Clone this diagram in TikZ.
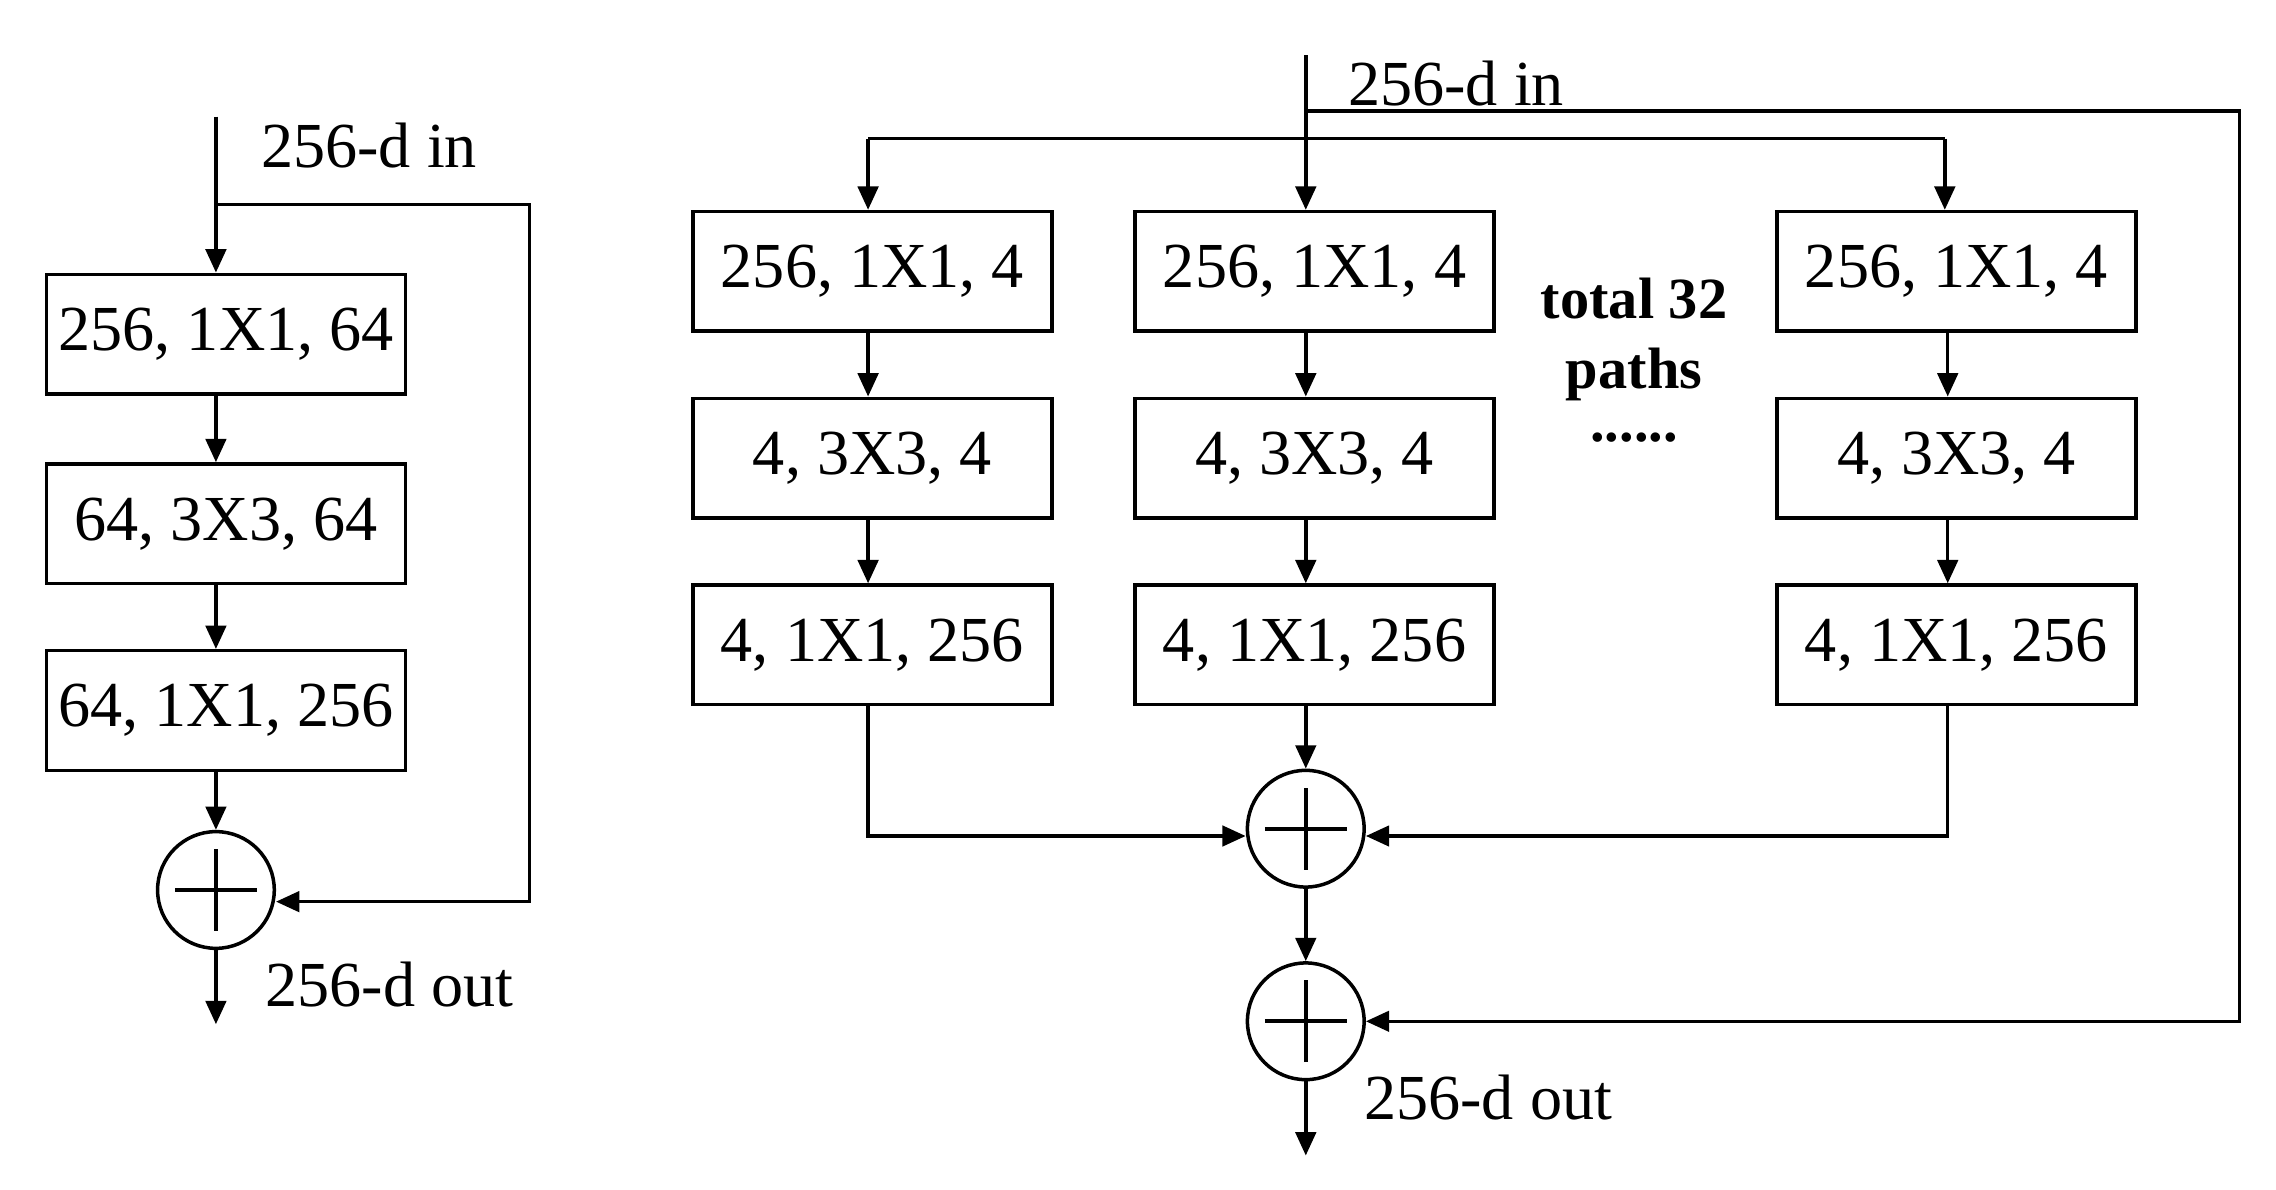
\documentclass[tikz,border=0pt]{standalone}
\usepackage{fontspec}
\setmainfont{Liberation Serif}
\usetikzlibrary{arrows.meta}
\begin{document}
\begin{tikzpicture}[x=0.5pt,y=-0.5pt,
  box/.style={draw,line width=1.2pt,minimum width=123pt,minimum height=41pt,inner sep=0pt,font=\fontsize{22}{26}\selectfont},
  sum/.style={draw,circle,line width=1.2pt,minimum size=40pt,inner sep=0pt},
  lab/.style={font=\fontsize{22}{26}\selectfont,anchor=west},
  ln/.style={line width=1.2pt},
  ar/.style={line width=1.2pt,-{Triangle[length=8pt,width=7pt]}}]
\useasboundingbox (0,0) rectangle (1560,815);
% plus signs in sums
\newcommand{\plusin}[1]{\draw[line width=1.5pt] ([xshift=-14pt]#1.center)--([xshift=14pt]#1.center) ([yshift=-14pt]#1.center)--([yshift=14pt]#1.center);}
% left block
\node[box] (a1) at (155,229) {256, 1X1, 64};
\node[box] (a2) at (155,359) {64, 3X3, 64};
\node[box] (a3) at (155,487) {64, 1X1, 256};
\node[sum] (as) at (148,610) {};
\plusin{as}
\coordinate (ain) at (148,80);
\coordinate (abr) at (148,140);
\coordinate (aout) at (148,702);
\draw[ar] (ain)--(a1.north-|ain);
\draw[ar] (a1.south-|ain)--(a2.north-|ain);
\draw[ar] (a2.south-|ain)--(a3.north-|ain);
\draw[ar] (a3.south-|ain)--(as);
\draw[ar] (as)--(aout);
\draw[ar] (abr)--(363,140)--(363,618)--(as.east|-0,618);
\node[lab] at (172,100) {256-d in};
\node[lab] at (175,675) {256-d out};
% right block
\foreach \n/\x in {b/598,c/901,d/1341}{
  \node[box] (\n1) at (\x,186) {256, 1X1, 4};
  \node[box] (\n2) at (\x,314) {4, 3X3, 4};
  \node[box] (\n3) at (\x,442) {4, 1X1, 256};
}
\node[sum] (s1) at (895,568) {};
\node[sum] (s2) at (895,700) {};
\plusin{s1}\plusin{s2}
\coordinate (rin) at (895,38);
\coordinate (rout) at (895,792);
\draw[ln] (rin)--(895,95);
\draw[ar] (895,95)--(c1.north-|rin);
\draw[ln] (595,95)--(1333,95);
\draw[ar] (595,95)--(b1.north-|595,0);
\draw[ar] (1333,95)--(d1.north-|1333,0);
\draw[ar] (b1.south-|595,0)--(b2.north-|595,0);
\draw[ar] (b2.south-|595,0)--(b3.north-|595,0);
\draw[ar] (c1.south-|rin)--(c2.north-|rin);
\draw[ar] (c2.south-|rin)--(c3.north-|rin);
\draw[ar] (d1.south-|1335,0)--(d2.north-|1335,0);
\draw[ar] (d2.south-|1335,0)--(d3.north-|1335,0);
\draw[ar] (c3.south-|rin)--(s1);
\draw[ar] (b3.south-|595,0)--(595,573)--(s1.west|-0,573);
\draw[ar] (d3.south-|1335,0)--(1335,573)--(s1.east|-0,573);
\draw[ar] (s1)--(s2);
\draw[ar] (s2)--(rout);
\draw[ar] (895,76)--(1535,76)--(1535,700)--(s2);
\node[lab] at (917,57) {256-d in};
\node[lab] at (928,752) {256-d out};
\node[font=\bfseries\fontsize{20}{24}\selectfont,align=center] at (1120,233) {total 32\\paths};
\node[font=\bfseries\fontsize{20}{24}\selectfont] at (1120,300) {......};
\end{tikzpicture}
\end{document}
